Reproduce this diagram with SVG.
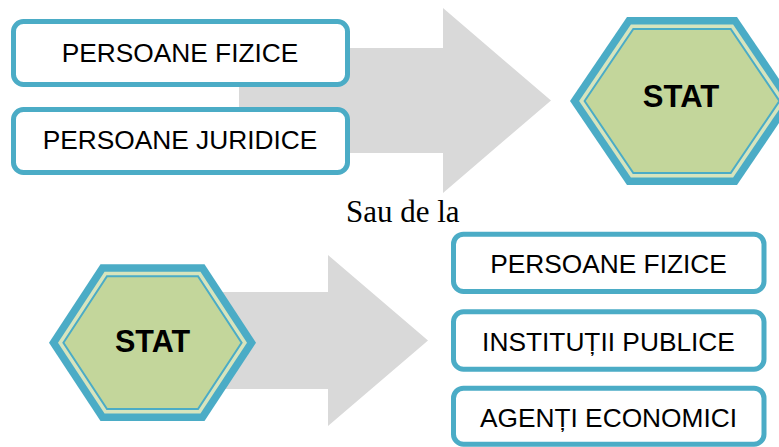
<svg xmlns="http://www.w3.org/2000/svg" width="779" height="447" viewBox="0 0 779 447">
  <style>
    .box { fill: #ffffff; stroke: #4bacc6; stroke-width: 5; }
    .lbl { font-family: "Liberation Sans", Arial, sans-serif; font-size: 26.3px; fill: #000000; text-anchor: middle; }
    .stat { font-family: "Liberation Sans", Arial, sans-serif; font-size: 31px; font-weight: bold; fill: #000000; text-anchor: middle; }
    .hexo { fill: #4bacc6; }
    .hexm { fill: #d7e4bd; }
    .hexi { fill: #c3d69b; stroke: #4bacc6; stroke-width: 2; }
    .arrow { fill: #d9d9d9; }
    .note { font-family: "Liberation Serif", "Times New Roman", serif; font-size: 31px; fill: #000000; }
  </style>
  <rect width="779" height="447" fill="#ffffff"/>
  <g id="connectors">
    <polygon class="arrow" points="239,48 443,48 443,8 551,100.5 443,193 443,153 239,153"/>
    <polygon class="arrow" points="215,292 328,292 328,255 428,340.5 328,426 328,389 215,389"/>
  </g>
  <g id="top-pf">
    <rect class="box" x="13.5" y="21.5" width="334" height="63" rx="10"/>
    <text class="lbl" x="180" y="61.7">PERSOANE FIZICE</text>
  </g>
  <g id="top-pj">
    <rect class="box" x="13.5" y="109.5" width="334" height="63" rx="10"/>
    <text class="lbl" x="180" y="149">PERSOANE JURIDICE</text>
  </g>
  <g id="stat-top">
    <polygon class="hexo" points="570,101 627,17 737,17 794,101 737,185 627,185"/>
    <polygon class="hexm" points="579.1,101 630.9,24.5 733.1,24.5 784.9,101 733.1,177.5 630.9,177.5"/>
    <polygon class="hexi" points="584.6,101 633.3,29 730.7,29 779.4,101 730.7,173 633.3,173"/>
    <text class="stat" x="681" y="107">STAT</text>
  </g>
  <text class="note" x="346" y="221.7">Sau de la</text>
  <g id="stat-bottom">
    <polygon class="hexo" points="49,342.7 100.5,264.3 204.5,264.3 256,342.7 204.5,421 100.5,421"/>
    <polygon class="hexm" points="58,342.7 104.55,271.8 200.45,271.8 247,342.7 200.45,413.5 104.55,413.5"/>
    <polygon class="hexi" points="63.4,342.7 107,276.3 198,276.3 241.6,342.7 198,409 107,409"/>
    <text class="stat" x="152.5" y="352.3" style="font-size:30.5px">STAT</text>
  </g>
  <g id="bot-pf">
    <rect class="box" x="453.5" y="234.2" width="310.5" height="57.3" rx="10"/>
    <text class="lbl" x="608.5" y="273.3">PERSOANE FIZICE</text>
  </g>
  <g id="bot-ip">
    <rect class="box" x="453.5" y="311.8" width="310.5" height="57.4" rx="10"/>
    <text class="lbl" x="608.5" y="351">INSTITUȚII PUBLICE</text>
  </g>
  <g id="bot-ae">
    <rect class="box" x="453.5" y="388.2" width="310.5" height="56" rx="10"/>
    <text class="lbl" x="608.5" y="426.7">AGENȚI ECONOMICI</text>
  </g>
</svg>
